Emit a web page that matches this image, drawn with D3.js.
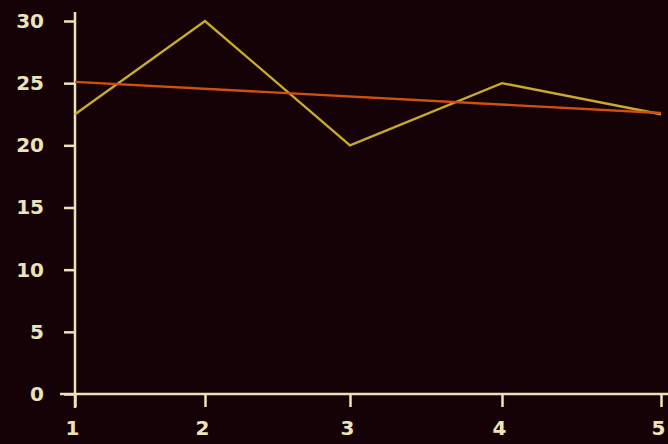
<!DOCTYPE html>
<html><head><meta charset="utf-8">
<script src="https://cdn.jsdelivr.net/npm/d3@7"></script>
<style>html,body{margin:0;padding:0;background:#140206;}svg{display:block;}</style>
</head><body>
<script>
const categories = [1, 2, 3, 4, 5];
const seriesValues = [22.5, 30, 20, 25, 22.5];
const trendX = [1, 5];
const trendValues = [25.1, 22.6];
const yTicks = [0, 5, 10, 15, 20, 25, 30];

const W = 668, H = 444;
const svg = d3.select("body").append("svg").attr("width", W).attr("height", H);
svg.append("rect").attr("width", W).attr("height", H).attr("fill", "#140206");

const x = d3.scaleLinear().domain([1, 2, 3, 4, 5]).range([75, 205, 350, 502, 661]);
const y = d3.scaleLinear().domain([0, 30]).range([394, 21]);

const axisColor = "#ece4b8";
const font = "DejaVu Sans, Verdana, sans-serif";

// y axis
const gy = svg.append("g").attr("transform", "translate(75,0)")
  .call(d3.axisLeft(y).tickValues(yTicks).tickSize(11).tickPadding(20).tickSizeOuter(0));
gy.select(".domain").remove();
gy.append("line").attr("x1", 0).attr("x2", 0).attr("y1", 12).attr("y2", 408)
  .attr("stroke", axisColor).attr("stroke-width", 2.5);

// x axis
const gx = svg.append("g").attr("transform", "translate(0,394)")
  .call(d3.axisBottom(x).tickValues(categories).tickFormat(d3.format("d")).tickSize(13).tickPadding(14).tickSizeOuter(0));
gx.select(".domain").remove();
gx.append("line").attr("x1", 60).attr("x2", W).attr("y1", 0).attr("y2", 0)
  .attr("stroke", axisColor).attr("stroke-width", 2.5);

[gx, gy].forEach(g => {
  g.selectAll(".tick line").attr("stroke", axisColor).attr("stroke-width", 2.5);
  g.selectAll(".tick text").attr("fill", axisColor).attr("font-family", font)
    .attr("font-size", 20).attr("font-weight", "bold");
});
gx.selectAll(".tick text").attr("dx", -3);

// series line
const line = d3.line().x((d, i) => x(categories[i])).y(d => y(d));
svg.append("path").datum(seriesValues).attr("d", line)
  .attr("fill", "none").attr("stroke", "#c9aa2c").attr("stroke-width", 2.4);

// trend line
const tline = d3.line().x((d, i) => x(trendX[i])).y(d => y(d));
svg.append("path").datum(trendValues).attr("d", tline)
  .attr("fill", "none").attr("stroke", "#d2500f").attr("stroke-width", 2.4);
</script>
</body></html>
